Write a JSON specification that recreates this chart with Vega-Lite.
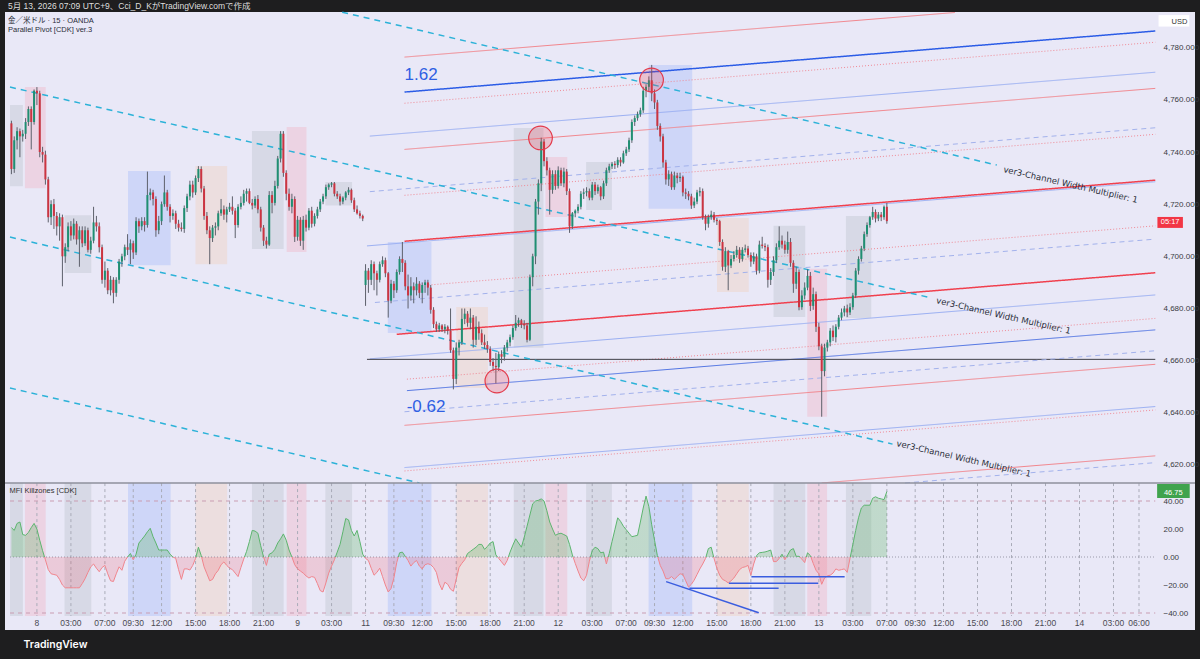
{
  "$schema": "https://vega.github.io/schema/vega-lite/v6.json",
  "width": 1190,
  "height": 618,
  "autosize": {"type": "none"},
  "padding": {"left": 5, "top": 12, "right": 5, "bottom": 29},
  "background": "#1e1e1f",
  "config": {
    "view": {"fill": "#e9e8f7", "stroke": null},
    "text": {"font": "Liberation Sans"}
  },
  "title": {
    "text": "5月 13, 2026 07:09 UTC+9、Cci_D_KがTradingView.comで作成",
    "subtitle": ["金／米ドル · 15 · OANDA", "Parallel Pivot [CDK] ver.3"],
    "anchor": "start",
    "frame": "group",
    "orient": "top",
    "offset": -22,
    "dx": 3,
    "font": "Liberation Sans, Noto Sans CJK JP",
    "fontSize": 8.5,
    "fontWeight": "normal",
    "color": "#dedede",
    "subtitleFont": "Liberation Sans, Noto Sans CJK JP",
    "subtitleFontSize": 7.5,
    "subtitleColor": "#2a2e39",
    "subtitlePadding": 7,
    "subtitleLineHeight": 8.5
  },
  "datasets": {
    "bars": [
      {"b":1,"o":4751,"h":4752,"l":4731.5,"c":4733.5,"m":21},
      {"b":2,"o":4733.5,"h":4746,"l":4732,"c":4744.5,"m":19},
      {"b":3,"o":4744.5,"h":4749.5,"l":4741,"c":4748,"m":24},
      {"b":4,"o":4748,"h":4749,"l":4738,"c":4746,"m":25},
      {"b":5,"o":4746,"h":4748.5,"l":4744,"c":4747,"m":16},
      {"b":6,"o":4747,"h":4753,"l":4745,"c":4751.5,"m":15.5},
      {"b":7,"o":4751.5,"h":4757.5,"l":4750,"c":4756.5,"m":17.5},
      {"b":8,"o":4756.5,"h":4757.5,"l":4741,"c":4751.5,"m":21},
      {"b":9,"o":4751.5,"h":4764,"l":4750.5,"c":4763.5,"m":24},
      {"b":10,"o":4763.5,"h":4764.9,"l":4758,"c":4762.5,"m":20},
      {"b":11,"o":4762.5,"h":4763.5,"l":4738,"c":4740,"m":12},
      {"b":12,"o":4740,"h":4742,"l":4736,"c":4739,"m":4.5},
      {"b":13,"o":4739,"h":4740.5,"l":4727.5,"c":4729.5,"m":-2},
      {"b":14,"o":4729.5,"h":4730.5,"l":4713,"c":4715,"m":-9},
      {"b":15,"o":4715,"h":4721.5,"l":4712,"c":4720,"m":-12},
      {"b":16,"o":4720,"h":4722,"l":4710.5,"c":4715.5,"m":-12.5},
      {"b":17,"o":4715.5,"h":4717,"l":4708,"c":4711.5,"m":-13},
      {"b":18,"o":4711.5,"h":4716.5,"l":4706,"c":4715,"m":-16},
      {"b":19,"o":4715,"h":4716,"l":4688.5,"c":4700,"m":-20},
      {"b":20,"o":4700,"h":4705,"l":4697.5,"c":4703.5,"m":-22},
      {"b":21,"o":4703.5,"h":4713,"l":4702,"c":4711.5,"m":-22},
      {"b":22,"o":4711.5,"h":4713.5,"l":4706,"c":4708,"m":-22},
      {"b":23,"o":4708,"h":4714.5,"l":4706.5,"c":4712.5,"m":-22},
      {"b":24,"o":4712.5,"h":4713.5,"l":4704.5,"c":4706.5,"m":-22},
      {"b":25,"o":4706.5,"h":4711.5,"l":4696,"c":4710,"m":-22},
      {"b":26,"o":4710,"h":4711.5,"l":4703.5,"c":4705,"m":-19},
      {"b":27,"o":4705,"h":4711.5,"l":4704,"c":4710,"m":-15.5},
      {"b":28,"o":4710,"h":4711,"l":4701.5,"c":4702.5,"m":-11},
      {"b":29,"o":4702.5,"h":4707.5,"l":4701,"c":4706,"m":-7},
      {"b":30,"o":4706,"h":4719,"l":4705,"c":4713,"m":-5},
      {"b":31,"o":4713,"h":4715.5,"l":4709.5,"c":4711.5,"m":-8},
      {"b":32,"o":4711.5,"h":4713,"l":4701.5,"c":4703.5,"m":-10.5},
      {"b":33,"o":4703.5,"h":4704.5,"l":4689.5,"c":4691,"m":-7.5},
      {"b":34,"o":4691,"h":4698,"l":4688,"c":4694.5,"m":-6},
      {"b":35,"o":4694.5,"h":4695.5,"l":4685.5,"c":4687,"m":-12},
      {"b":36,"o":4687,"h":4692.5,"l":4685,"c":4691,"m":-17},
      {"b":37,"o":4691,"h":4692,"l":4682,"c":4686,"m":-17.5},
      {"b":38,"o":4686,"h":4692,"l":4684.5,"c":4691,"m":-12},
      {"b":39,"o":4691,"h":4699,"l":4689.5,"c":4698,"m":-7},
      {"b":40,"o":4698,"h":4701,"l":4696,"c":4700,"m":-9.5},
      {"b":41,"o":4700,"h":4704.5,"l":4698.5,"c":4703.5,"m":-3},
      {"b":42,"o":4703.5,"h":4708.5,"l":4700.5,"c":4702.5,"m":0},
      {"b":43,"o":4702.5,"h":4706.5,"l":4697,"c":4705,"m":2.5},
      {"b":44,"o":4705,"h":4706,"l":4699,"c":4701.5,"m":-2},
      {"b":45,"o":4701.5,"h":4715,"l":4700.5,"c":4713.5,"m":2},
      {"b":46,"o":4713.5,"h":4714.5,"l":4709,"c":4711.5,"m":10},
      {"b":47,"o":4711.5,"h":4715,"l":4710,"c":4713.5,"m":12.5},
      {"b":48,"o":4713.5,"h":4715,"l":4709.5,"c":4712,"m":15},
      {"b":49,"o":4712,"h":4732.5,"l":4711,"c":4723.5,"m":18},
      {"b":50,"o":4723.5,"h":4726,"l":4721.5,"c":4724.5,"m":20.5},
      {"b":51,"o":4724.5,"h":4725.5,"l":4719.5,"c":4722,"m":14.5},
      {"b":52,"o":4722,"h":4723,"l":4707.5,"c":4710,"m":10},
      {"b":53,"o":4710,"h":4715.5,"l":4708.5,"c":4713.5,"m":5},
      {"b":54,"o":4713.5,"h":4721,"l":4712,"c":4720,"m":5},
      {"b":55,"o":4720,"h":4731,"l":4719,"c":4724.5,"m":5},
      {"b":56,"o":4724.5,"h":4725.5,"l":4717.5,"c":4719,"m":5},
      {"b":57,"o":4719,"h":4720,"l":4713,"c":4715.5,"m":2},
      {"b":58,"o":4715.5,"h":4718,"l":4714,"c":4716.5,"m":0},
      {"b":59,"o":4716.5,"h":4717.5,"l":4710.5,"c":4712.5,"m":-1},
      {"b":60,"o":4712.5,"h":4714,"l":4709.5,"c":4711,"m":-9},
      {"b":61,"o":4711,"h":4713,"l":4709.5,"c":4710.5,"m":-16},
      {"b":62,"o":4710.5,"h":4719.5,"l":4709,"c":4718.5,"m":-8.5},
      {"b":63,"o":4718.5,"h":4724,"l":4717,"c":4723,"m":-8.5},
      {"b":64,"o":4723,"h":4729,"l":4721.5,"c":4727.5,"m":-9.3},
      {"b":65,"o":4727.5,"h":4729,"l":4722.5,"c":4724.5,"m":-6},
      {"b":66,"o":4724.5,"h":4731,"l":4723.5,"c":4730,"m":-1},
      {"b":67,"o":4730,"h":4734.6,"l":4728.5,"c":4733.5,"m":7},
      {"b":68,"o":4733.5,"h":4734.5,"l":4724.5,"c":4726,"m":1},
      {"b":69,"o":4726,"h":4727,"l":4714,"c":4715.5,"m":-7},
      {"b":70,"o":4715.5,"h":4717,"l":4708.5,"c":4710,"m":-12},
      {"b":71,"o":4710,"h":4711.5,"l":4697,"c":4707,"m":-17},
      {"b":72,"o":4707,"h":4712,"l":4705.5,"c":4711,"m":-16},
      {"b":73,"o":4711,"h":4713,"l":4708,"c":4711.5,"m":-12},
      {"b":74,"o":4711.5,"h":4717.5,"l":4710,"c":4716.5,"m":-9.5},
      {"b":75,"o":4716.5,"h":4722,"l":4715.5,"c":4718,"m":-5.5},
      {"b":76,"o":4718,"h":4719.5,"l":4714,"c":4716,"m":-3.5},
      {"b":77,"o":4716,"h":4719,"l":4713,"c":4718,"m":-6},
      {"b":78,"o":4718,"h":4720.5,"l":4717,"c":4719,"m":-8},
      {"b":79,"o":4719,"h":4723,"l":4716,"c":4717.5,"m":-9},
      {"b":80,"o":4717.5,"h":4718.5,"l":4707,"c":4712,"m":-11.5},
      {"b":81,"o":4712,"h":4720,"l":4711,"c":4719,"m":-14},
      {"b":82,"o":4719,"h":4723,"l":4718,"c":4720.5,"m":-7.5},
      {"b":83,"o":4720.5,"h":4725.5,"l":4719.5,"c":4724,"m":-1.5},
      {"b":84,"o":4724,"h":4726,"l":4721,"c":4725,"m":4},
      {"b":85,"o":4725,"h":4726,"l":4720,"c":4720.5,"m":11},
      {"b":86,"o":4720.5,"h":4722,"l":4718,"c":4719.5,"m":19},
      {"b":87,"o":4719.5,"h":4723,"l":4718.5,"c":4722,"m":18.5},
      {"b":88,"o":4722,"h":4723.5,"l":4716.5,"c":4718,"m":17},
      {"b":89,"o":4718,"h":4719,"l":4709.5,"c":4711,"m":8},
      {"b":90,"o":4711,"h":4712,"l":4704,"c":4706,"m":0},
      {"b":91,"o":4706,"h":4707.5,"l":4703,"c":4704.5,"m":-6},
      {"b":92,"o":4704.5,"h":4725,"l":4704,"c":4723.5,"m":2},
      {"b":93,"o":4723.5,"h":4725,"l":4716.5,"c":4720.5,"m":3},
      {"b":94,"o":4720.5,"h":4729,"l":4719.5,"c":4727,"m":5.5},
      {"b":95,"o":4727,"h":4738.5,"l":4726,"c":4737.5,"m":10},
      {"b":96,"o":4737.5,"h":4748,"l":4736,"c":4747,"m":13},
      {"b":97,"o":4747,"h":4748,"l":4730.5,"c":4732,"m":16.5},
      {"b":98,"o":4732,"h":4733,"l":4721.5,"c":4724,"m":12},
      {"b":99,"o":4724,"h":4726,"l":4717.5,"c":4719,"m":5},
      {"b":100,"o":4719,"h":4724,"l":4716.5,"c":4722,"m":0},
      {"b":101,"o":4722,"h":4723,"l":4705.5,"c":4707.5,"m":-5.5},
      {"b":102,"o":4707.5,"h":4715.5,"l":4706,"c":4714,"m":-8.5},
      {"b":103,"o":4714,"h":4715,"l":4704,"c":4706,"m":-10},
      {"b":104,"o":4706,"h":4715.5,"l":4702.5,"c":4714,"m":-11.5},
      {"b":105,"o":4714,"h":4716,"l":4709.5,"c":4711,"m":-13.5},
      {"b":106,"o":4711,"h":4718.5,"l":4710,"c":4717.5,"m":-15},
      {"b":107,"o":4717.5,"h":4719,"l":4711,"c":4712.5,"m":-14},
      {"b":108,"o":4712.5,"h":4716.5,"l":4711.5,"c":4715.5,"m":-14.5},
      {"b":109,"o":4715.5,"h":4719,"l":4714.5,"c":4718,"m":-19},
      {"b":110,"o":4718,"h":4722,"l":4717,"c":4721,"m":-24},
      {"b":111,"o":4721,"h":4724,"l":4720,"c":4723,"m":-25},
      {"b":112,"o":4723,"h":4727.5,"l":4722,"c":4726.5,"m":-18.5},
      {"b":113,"o":4726.5,"h":4728,"l":4725.5,"c":4727.5,"m":-11.5},
      {"b":114,"o":4727.5,"h":4728.5,"l":4726.5,"c":4728,"m":-6.5},
      {"b":115,"o":4728,"h":4728.5,"l":4723,"c":4724,"m":-2},
      {"b":116,"o":4724,"h":4725,"l":4722,"c":4723,"m":3.5},
      {"b":117,"o":4723,"h":4724,"l":4719.5,"c":4721,"m":9},
      {"b":118,"o":4721,"h":4723,"l":4720,"c":4722.5,"m":18},
      {"b":119,"o":4722.5,"h":4725,"l":4721.5,"c":4724.5,"m":27.5},
      {"b":120,"o":4724.5,"h":4726.5,"l":4723.5,"c":4725.5,"m":26.5},
      {"b":121,"o":4725.5,"h":4726,"l":4720.5,"c":4721.5,"m":19},
      {"b":122,"o":4721.5,"h":4722.5,"l":4717,"c":4718,"m":15},
      {"b":123,"o":4718,"h":4719.5,"l":4716,"c":4716.5,"m":19},
      {"b":124,"o":4716.5,"h":4717.5,"l":4714.5,"c":4715.5,"m":11},
      {"b":125,"o":4715.5,"h":4716,"l":4713.5,"c":4714.5,"m":2},
      {"b":126,"o":4689,"h":4697,"l":4681,"c":4694.5,"m":-1},
      {"b":127,"o":4694.5,"h":4695.5,"l":4686,"c":4691,"m":-2.5},
      {"b":128,"o":4691,"h":4698.5,"l":4689,"c":4697,"m":-8},
      {"b":129,"o":4697,"h":4698,"l":4687,"c":4693.5,"m":-13},
      {"b":130,"o":4693.5,"h":4694.5,"l":4685,"c":4691,"m":-11},
      {"b":131,"o":4691,"h":4698,"l":4690,"c":4697,"m":-8},
      {"b":132,"o":4697,"h":4700,"l":4696,"c":4698.5,"m":-14},
      {"b":133,"o":4698.5,"h":4699.5,"l":4692,"c":4693.5,"m":-20},
      {"b":134,"o":4693.5,"h":4694,"l":4676.5,"c":4683,"m":-25},
      {"b":135,"o":4683,"h":4691,"l":4682,"c":4689.5,"m":-22.5},
      {"b":136,"o":4689.5,"h":4690.5,"l":4684,"c":4687,"m":-15},
      {"b":137,"o":4687,"h":4695,"l":4686,"c":4694,"m":-4},
      {"b":138,"o":4694,"h":4700,"l":4693,"c":4699,"m":3},
      {"b":139,"o":4699,"h":4705.5,"l":4694,"c":4697.5,"m":3.5},
      {"b":140,"o":4697.5,"h":4698.5,"l":4687,"c":4688.5,"m":0.5},
      {"b":141,"o":4688.5,"h":4693,"l":4680,"c":4685,"m":-2.5},
      {"b":142,"o":4685,"h":4692,"l":4683,"c":4688.5,"m":-6.5},
      {"b":143,"o":4688.5,"h":4690,"l":4682,"c":4687,"m":-4},
      {"b":144,"o":4687,"h":4692,"l":4685,"c":4689.5,"m":-2.5},
      {"b":145,"o":4689.5,"h":4690.5,"l":4684,"c":4686,"m":-6.5},
      {"b":146,"o":4686,"h":4690,"l":4682,"c":4689,"m":-8.5},
      {"b":147,"o":4689,"h":4691,"l":4686,"c":4690,"m":-5.5},
      {"b":148,"o":4690,"h":4691,"l":4685,"c":4688,"m":-4.8},
      {"b":149,"o":4688,"h":4689,"l":4678,"c":4679.5,"m":-5.5},
      {"b":150,"o":4679.5,"h":4680.5,"l":4672.5,"c":4674,"m":-7.5},
      {"b":151,"o":4674,"h":4675,"l":4671,"c":4672,"m":-11},
      {"b":152,"o":4672,"h":4674.5,"l":4671,"c":4673.5,"m":-19},
      {"b":153,"o":4673.5,"h":4674,"l":4671,"c":4672,"m":-23.5},
      {"b":154,"o":4672,"h":4674,"l":4670.5,"c":4673,"m":-18},
      {"b":155,"o":4673,"h":4673.5,"l":4670,"c":4671.5,"m":-19.5},
      {"b":156,"o":4671.5,"h":4680,"l":4663,"c":4664,"m":-23},
      {"b":157,"o":4664,"h":4665,"l":4649,"c":4653,"m":-24.5},
      {"b":158,"o":4653,"h":4667,"l":4651,"c":4665,"m":-16},
      {"b":159,"o":4665,"h":4668,"l":4662,"c":4667,"m":-7.5},
      {"b":160,"o":4667,"h":4680,"l":4666,"c":4676,"m":-4.5},
      {"b":161,"o":4676,"h":4680,"l":4674,"c":4678,"m":-2},
      {"b":162,"o":4678,"h":4679,"l":4673,"c":4674.5,"m":2.5},
      {"b":163,"o":4674.5,"h":4680,"l":4672,"c":4676.5,"m":4},
      {"b":164,"o":4676.5,"h":4677.5,"l":4665,"c":4668,"m":5.5},
      {"b":165,"o":4668,"h":4677,"l":4666,"c":4673,"m":7},
      {"b":166,"o":4673,"h":4675,"l":4668,"c":4670.5,"m":9},
      {"b":167,"o":4670.5,"h":4672,"l":4666,"c":4667,"m":9},
      {"b":168,"o":4667,"h":4670,"l":4664.5,"c":4666,"m":5.5},
      {"b":169,"o":4666,"h":4667.5,"l":4663,"c":4664.5,"m":7.5},
      {"b":170,"o":4664.5,"h":4665.5,"l":4658,"c":4659.5,"m":10},
      {"b":171,"o":4659.5,"h":4661,"l":4656,"c":4658,"m":11},
      {"b":172,"o":4658,"h":4663,"l":4651.3,"c":4657.5,"m":1.5},
      {"b":173,"o":4657.5,"h":4663.5,"l":4656,"c":4662.5,"m":-1},
      {"b":174,"o":4662.5,"h":4664,"l":4659,"c":4661.5,"m":-3.5},
      {"b":175,"o":4661.5,"h":4666,"l":4660,"c":4665,"m":-6},
      {"b":176,"o":4665,"h":4668,"l":4663.5,"c":4667,"m":-2.5},
      {"b":177,"o":4667,"h":4670,"l":4665.5,"c":4669,"m":3.5},
      {"b":178,"o":4669,"h":4673.5,"l":4668,"c":4672.5,"m":8.5},
      {"b":179,"o":4672.5,"h":4677.5,"l":4671.5,"c":4674.5,"m":13},
      {"b":180,"o":4674.5,"h":4676.5,"l":4673,"c":4675.5,"m":10},
      {"b":181,"o":4675.5,"h":4676,"l":4672.5,"c":4674,"m":7},
      {"b":182,"o":4674,"h":4675.5,"l":4672,"c":4673.5,"m":14},
      {"b":183,"o":4673.5,"h":4674.5,"l":4667,"c":4668,"m":22},
      {"b":184,"o":4668,"h":4693,"l":4667.5,"c":4692,"m":30},
      {"b":185,"o":4692,"h":4701,"l":4688.5,"c":4700,"m":38},
      {"b":186,"o":4700,"h":4722,"l":4697,"c":4721,"m":40},
      {"b":187,"o":4721,"h":4729.5,"l":4716,"c":4728,"m":40.5},
      {"b":188,"o":4728,"h":4745.5,"l":4725,"c":4744,"m":41.5},
      {"b":189,"o":4744,"h":4745,"l":4734.5,"c":4736.5,"m":40},
      {"b":190,"o":4736.5,"h":4738,"l":4731,"c":4733,"m":33},
      {"b":191,"o":4733,"h":4734,"l":4716,"c":4725.5,"m":25},
      {"b":192,"o":4725.5,"h":4733,"l":4724,"c":4731.5,"m":20},
      {"b":193,"o":4731.5,"h":4733,"l":4725.5,"c":4727,"m":15.5},
      {"b":194,"o":4727,"h":4734.5,"l":4726,"c":4733,"m":16.5},
      {"b":195,"o":4733,"h":4734,"l":4727,"c":4728,"m":17},
      {"b":196,"o":4728,"h":4734,"l":4726.5,"c":4732.5,"m":16},
      {"b":197,"o":4732.5,"h":4733.5,"l":4723.5,"c":4725,"m":15},
      {"b":198,"o":4725,"h":4726,"l":4709,"c":4711.5,"m":9},
      {"b":199,"o":4711.5,"h":4717,"l":4710.5,"c":4716.5,"m":1.5},
      {"b":200,"o":4716.5,"h":4718,"l":4715,"c":4717.5,"m":-4.5},
      {"b":201,"o":4717.5,"h":4720,"l":4716.5,"c":4719,"m":-10},
      {"b":202,"o":4719,"h":4725,"l":4718,"c":4724,"m":-15},
      {"b":203,"o":4724,"h":4726,"l":4722,"c":4724.5,"m":-17},
      {"b":204,"o":4724.5,"h":4726.5,"l":4723,"c":4725,"m":-13},
      {"b":205,"o":4725,"h":4726,"l":4721.5,"c":4722.5,"m":-3},
      {"b":206,"o":4722.5,"h":4728.5,"l":4721.5,"c":4727.5,"m":4.5},
      {"b":207,"o":4727.5,"h":4728.5,"l":4723.5,"c":4725,"m":7},
      {"b":208,"o":4725,"h":4727.5,"l":4724,"c":4726.5,"m":6},
      {"b":209,"o":4726.5,"h":4727,"l":4721.5,"c":4723,"m":3},
      {"b":210,"o":4723,"h":4729,"l":4722,"c":4728,"m":3.5},
      {"b":211,"o":4728,"h":4734,"l":4727,"c":4733,"m":-5},
      {"b":212,"o":4733,"h":4735.5,"l":4732,"c":4734.5,"m":2.5},
      {"b":213,"o":4734.5,"h":4736.2,"l":4733.5,"c":4735.5,"m":11},
      {"b":214,"o":4735.5,"h":4736.5,"l":4733.5,"c":4735,"m":19.5},
      {"b":215,"o":4735,"h":4738,"l":4734,"c":4737,"m":28},
      {"b":216,"o":4737,"h":4738,"l":4734.5,"c":4736,"m":25.5},
      {"b":217,"o":4736,"h":4740.5,"l":4735.5,"c":4739.5,"m":22},
      {"b":218,"o":4739.5,"h":4742,"l":4738.5,"c":4741,"m":19.5},
      {"b":219,"o":4741,"h":4745.5,"l":4740,"c":4744.5,"m":17},
      {"b":220,"o":4744.5,"h":4752.5,"l":4743.5,"c":4751.5,"m":14.5},
      {"b":221,"o":4751.5,"h":4754,"l":4750,"c":4753,"m":15},
      {"b":222,"o":4753,"h":4755.5,"l":4752,"c":4754.5,"m":15.5},
      {"b":223,"o":4754.5,"h":4757,"l":4753.5,"c":4756,"m":25},
      {"b":224,"o":4756,"h":4765,"l":4755,"c":4763.5,"m":35},
      {"b":225,"o":4763.5,"h":4766,"l":4761,"c":4765,"m":43.5},
      {"b":226,"o":4765,"h":4769,"l":4763,"c":4767.5,"m":36},
      {"b":227,"o":4767.5,"h":4773.4,"l":4759.5,"c":4762.5,"m":23},
      {"b":228,"o":4762.5,"h":4764,"l":4756.5,"c":4759,"m":12},
      {"b":229,"o":4759,"h":4760,"l":4748.5,"c":4750,"m":1},
      {"b":230,"o":4750,"h":4751,"l":4744,"c":4746,"m":-6},
      {"b":231,"o":4746,"h":4747,"l":4734,"c":4736,"m":-10},
      {"b":232,"o":4736,"h":4737,"l":4727.5,"c":4729.5,"m":-15.5},
      {"b":233,"o":4729.5,"h":4733,"l":4727,"c":4731.5,"m":-15.5},
      {"b":234,"o":4731.5,"h":4732.5,"l":4725.5,"c":4726.5,"m":-14},
      {"b":235,"o":4726.5,"h":4732.5,"l":4725.5,"c":4731,"m":-16},
      {"b":236,"o":4731,"h":4732,"l":4728,"c":4730,"m":-14},
      {"b":237,"o":4730,"h":4732,"l":4728.5,"c":4730.5,"m":-12},
      {"b":238,"o":4730.5,"h":4731,"l":4723,"c":4724.5,"m":-12.5},
      {"b":239,"o":4724.5,"h":4726,"l":4722,"c":4724,"m":-17},
      {"b":240,"o":4724,"h":4725,"l":4721.5,"c":4723,"m":-21.5},
      {"b":241,"o":4723,"h":4724,"l":4718.2,"c":4719.5,"m":-19.5},
      {"b":242,"o":4719.5,"h":4722.5,"l":4718.5,"c":4721,"m":-16.5},
      {"b":243,"o":4721,"h":4725.5,"l":4720,"c":4724.5,"m":-12.5},
      {"b":244,"o":4724.5,"h":4726.5,"l":4723,"c":4725,"m":-8.5},
      {"b":245,"o":4725,"h":4726,"l":4714,"c":4715,"m":-5},
      {"b":246,"o":4715,"h":4716,"l":4710,"c":4712.5,"m":-1},
      {"b":247,"o":4712.5,"h":4716,"l":4711,"c":4715,"m":6},
      {"b":248,"o":4715,"h":4717.5,"l":4714,"c":4716,"m":7},
      {"b":249,"o":4716,"h":4717,"l":4713,"c":4714,"m":-1},
      {"b":250,"o":4714,"h":4714.7,"l":4712,"c":4713.5,"m":-8},
      {"b":251,"o":4713.5,"h":4714,"l":4704,"c":4705.5,"m":-13},
      {"b":252,"o":4705.5,"h":4706.5,"l":4694.5,"c":4696,"m":-16},
      {"b":253,"o":4696,"h":4703.5,"l":4694,"c":4702,"m":-17},
      {"b":254,"o":4702,"h":4702.5,"l":4687,"c":4696.5,"m":-18.5},
      {"b":255,"o":4696.5,"h":4700.5,"l":4695.5,"c":4699,"m":-17},
      {"b":256,"o":4699,"h":4702,"l":4698,"c":4700.5,"m":-15},
      {"b":257,"o":4700.5,"h":4704,"l":4699.5,"c":4702.5,"m":-12},
      {"b":258,"o":4702.5,"h":4703.5,"l":4697.5,"c":4699,"m":-9},
      {"b":259,"o":4699,"h":4703.5,"l":4698,"c":4702.5,"m":-7.5},
      {"b":260,"o":4702.5,"h":4704.5,"l":4701.5,"c":4703,"m":-7},
      {"b":261,"o":4703,"h":4704,"l":4699.5,"c":4700.5,"m":-6},
      {"b":262,"o":4700.5,"h":4701.5,"l":4696,"c":4698,"m":-13},
      {"b":263,"o":4698,"h":4701.5,"l":4697,"c":4700,"m":-5},
      {"b":264,"o":4700,"h":4701,"l":4693,"c":4694.5,"m":1},
      {"b":265,"o":4694.5,"h":4706,"l":4693.5,"c":4704.5,"m":3},
      {"b":266,"o":4704.5,"h":4707.5,"l":4703,"c":4704,"m":3.3},
      {"b":267,"o":4704,"h":4705,"l":4702,"c":4703.5,"m":3.6},
      {"b":268,"o":4703.5,"h":4704.5,"l":4688,"c":4691,"m":4.2},
      {"b":269,"o":4691,"h":4695.5,"l":4689,"c":4694,"m":5},
      {"b":270,"o":4694,"h":4700,"l":4692.5,"c":4698.5,"m":-3.3},
      {"b":271,"o":4698.5,"h":4705,"l":4697.5,"c":4703.5,"m":-3.3},
      {"b":272,"o":4703.5,"h":4711.5,"l":4702.5,"c":4706,"m":-1},
      {"b":273,"o":4706,"h":4708,"l":4703,"c":4704.5,"m":2},
      {"b":274,"o":4704.5,"h":4706,"l":4701,"c":4702.5,"m":-2},
      {"b":275,"o":4702.5,"h":4709.5,"l":4701,"c":4705.5,"m":1.5},
      {"b":276,"o":4705.5,"h":4707,"l":4696,"c":4697.5,"m":5},
      {"b":277,"o":4697.5,"h":4698.5,"l":4686,"c":4689.5,"m":6},
      {"b":278,"o":4689.5,"h":4696,"l":4687.5,"c":4694,"m":0.5},
      {"b":279,"o":4694,"h":4695,"l":4679.3,"c":4680.5,"m":0.5},
      {"b":280,"o":4680.5,"h":4687,"l":4679.5,"c":4685,"m":-1.5},
      {"b":281,"o":4685,"h":4690,"l":4683.5,"c":4688,"m":-4},
      {"b":282,"o":4688,"h":4695,"l":4687,"c":4692.5,"m":3},
      {"b":283,"o":4692.5,"h":4694,"l":4679,"c":4681,"m":1},
      {"b":284,"o":4681,"h":4688,"l":4679.5,"c":4685.5,"m":-4.5},
      {"b":285,"o":4685.5,"h":4686.5,"l":4671,"c":4673,"m":-9.5},
      {"b":286,"o":4673,"h":4674.5,"l":4664,"c":4665.5,"m":-12},
      {"b":287,"o":4665.5,"h":4666.5,"l":4638.5,"c":4656,"m":-19.5},
      {"b":288,"o":4656,"h":4666.5,"l":4654,"c":4665,"m":-15},
      {"b":289,"o":4665,"h":4668,"l":4663.5,"c":4667,"m":-13.5},
      {"b":290,"o":4667,"h":4672.5,"l":4665.5,"c":4671.5,"m":-13},
      {"b":291,"o":4671.5,"h":4673.5,"l":4667.5,"c":4669,"m":-11.5},
      {"b":292,"o":4669,"h":4674,"l":4667,"c":4673,"m":-8.5},
      {"b":293,"o":4673,"h":4677.5,"l":4672,"c":4676.5,"m":-9.5},
      {"b":294,"o":4676.5,"h":4680,"l":4675.5,"c":4678.5,"m":-9},
      {"b":295,"o":4678.5,"h":4681,"l":4677,"c":4680,"m":-8.5},
      {"b":296,"o":4680,"h":4681.5,"l":4676.7,"c":4678.5,"m":-11},
      {"b":297,"o":4678.5,"h":4682,"l":4677.5,"c":4680.5,"m":-1},
      {"b":298,"o":4680.5,"h":4686,"l":4679.5,"c":4685,"m":9},
      {"b":299,"o":4685,"h":4695.5,"l":4684,"c":4694.5,"m":19},
      {"b":300,"o":4694.5,"h":4700,"l":4693,"c":4699,"m":28},
      {"b":301,"o":4699,"h":4704,"l":4698,"c":4703,"m":35},
      {"b":302,"o":4703,"h":4709.5,"l":4702,"c":4708.5,"m":37},
      {"b":303,"o":4708.5,"h":4713,"l":4707.5,"c":4712,"m":37},
      {"b":304,"o":4712,"h":4715.5,"l":4711,"c":4715,"m":37},
      {"b":305,"o":4715,"h":4719,"l":4714,"c":4717,"m":42},
      {"b":306,"o":4717,"h":4718,"l":4713,"c":4714.5,"m":43},
      {"b":307,"o":4714.5,"h":4717,"l":4713.5,"c":4716,"m":42},
      {"b":308,"o":4716,"h":4717,"l":4713.5,"c":4715,"m":41.5},
      {"b":309,"o":4715,"h":4719.5,"l":4714,"c":4719,"m":41},
      {"b":310,"o":4719,"h":4720.5,"l":4712.5,"c":4713.5,"m":46.75}
    ],
    "zones": [
      {"b":0.5,"b2":5.05,"p":4758.0,"p2":4726.9,"z":"gray"},
      {"b":5.75,"b2":13.1,"p":4764.9,"p2":4726.1,"z":"pink"},
      {"b":19.75,"b2":29.2,"p":4715.8,"p2":4693.6,"z":"gray"},
      {"b":42.15,"b2":57.2,"p":4732.7,"p2":4696.6,"z":"blue"},
      {"b":65.95,"b2":77.15,"p":4734.6,"p2":4697.0,"z":"peach"},
      {"b":85.9,"b2":97.1,"p":4748.1,"p2":4702.8,"z":"gray"},
      {"b":98.15,"b2":105.15,"p":4749.6,"p2":4701.7,"z":"pink"},
      {"b":111.8,"b2":121.25,"p":4728.5,"p2":4719.5,"z":"gray"},
      {"b":133.85,"b2":149.25,"p":4705.5,"p2":4670.6,"z":"blue"},
      {"b":158.0,"b2":169.2,"p":4680.6,"p2":4649.5,"z":"peach"},
      {"b":178.3,"b2":188.8,"p":4749.2,"p2":4664.9,"z":"gray"},
      {"b":189.5,"b2":197.2,"p":4738.1,"p2":4715.1,"z":"pink"},
      {"b":203.85,"b2":212.95,"p":4736.2,"p2":4717.8,"z":"gray"},
      {"b":225.9,"b2":241.3,"p":4773.4,"p2":4718.2,"z":"blue"},
      {"b":250.05,"b2":261.25,"p":4714.7,"p2":4686.3,"z":"peach"},
      {"b":270.0,"b2":281.2,"p":4711.7,"p2":4676.7,"z":"gray"},
      {"b":281.9,"b2":288.9,"p":4695.2,"p2":4638.5,"z":"pink"},
      {"b":295.55,"b2":304.5,"p":4715.5,"p2":4676.4,"z":"gray"}
    ],
    "lines": [
      {"b":139.75,"p":4776.4,"b2":334,"p2":4793.5,"k":"redThin"},
      {"b":139.75,"p":4763.0,"b2":404.75,"p2":4786.4,"k":"blueThick"},
      {"b":139.75,"p":4758.7,"b2":404.75,"p2":4782.1,"k":"redDot"},
      {"b":127.5,"p":4746.1,"b2":404.75,"p2":4770.6,"k":"blueLight"},
      {"b":139.75,"p":4741.0,"b2":404.75,"p2":4764.4,"k":"redThin"},
      {"b":127.5,"p":4724.8,"b2":404.75,"p2":4749.3,"k":"blueDash"},
      {"b":139.75,"p":4723.4,"b2":404.75,"p2":4746.8,"k":"redDot"},
      {"b":139.75,"p":4705.8,"b2":404.75,"p2":4729.2,"k":"redSolid"},
      {"b":126.5,"p":4704.0,"b2":404.75,"p2":4728.6,"k":"blueLight"},
      {"b":148.2,"p":4689.0,"b2":404.75,"p2":4711.7,"k":"redDot"},
      {"b":129.3,"p":4682.3,"b2":404.75,"p2":4706.6,"k":"blueDash"},
      {"b":137,"p":4670.1,"b2":404.75,"p2":4693.7,"k":"redSolid"},
      {"b":127.5,"p":4660.7,"b2":404.75,"p2":4685.2,"k":"blueLight"},
      {"b":140.6,"p":4652.9,"b2":404.75,"p2":4676.2,"k":"redDot"},
      {"b":140.6,"p":4648.5,"b2":404.75,"p2":4671.8,"k":"blueMed"},
      {"b":126.5,"p":4660.5,"b2":404.75,"p2":4660.5,"k":"black"},
      {"b":139.75,"p":4640.4,"b2":404.75,"p2":4663.8,"k":"blueDash"},
      {"b":139.75,"p":4635.2,"b2":404.75,"p2":4658.6,"k":"redThin"},
      {"b":139.75,"p":4619.0,"b2":404.75,"p2":4642.4,"k":"blueLight"},
      {"b":139.75,"p":4617.7,"b2":404.75,"p2":4641.1,"k":"redDot"},
      {"b":287,"p":4613.1,"b2":404.75,"p2":4623.5,"k":"redThin"},
      {"b":316.4,"p":4613.1,"b2":404.75,"p2":4620.9,"k":"blueDash"},
      {"b":117.75,"p":4793.6,"b2":348.8,"p2":4735.0,"k":"cyan"},
      {"b":0.5,"p":4764.9,"b2":326,"p2":4684.0,"k":"cyan"},
      {"b":0.5,"p":4707.4,"b2":312,"p2":4628.0,"k":"cyan"},
      {"b":0.5,"p":4649.5,"b2":145,"p2":4613.1,"k":"cyan"}
    ],
    "pivots": [
      {"b":172.35,"p":4652.2},
      {"b":187.75,"p":4745.4},
      {"b":226.95,"p":4767.6}
    ],
    "notes": [
      {"b":351.2,"p":4733.5,"t":"ver3-Channel Width Multiplier: 1"},
      {"b":327.5,"p":4683.2,"t":"ver3-Channel Width Multiplier: 1"},
      {"b":313.5,"p":4628.4,"t":"ver3-Channel Width Multiplier: 1"}
    ],
    "fib": [
      {"b":139.75,"p":4769.5,"t":"1.62"},
      {"b":140.5,"p":4642.1,"t":"-0.62"}
    ],
    "divs": [
      {"b":232.1,"m":-17.6,"b2":264.8,"m2":-39.8},
      {"b":240.3,"m":-22.4,"b2":271.8,"m2":-22.4},
      {"b":254.25,"m":-18.8,"b2":285.8,"m2":-18.8},
      {"b":262.2,"m":-14.1,"b2":295.1,"m2":-14.1}
    ],
    "ticks": [
      {"b":10,"t":"8"},{"b":22,"t":"03:00"},{"b":34,"t":"07:00"},{"b":44,"t":"09:30"},{"b":54,"t":"12:00"},
      {"b":66,"t":"15:00"},{"b":78,"t":"18:00"},{"b":90,"t":"21:00"},{"b":102,"t":"9"},{"b":114,"t":"03:00"},
      {"b":126,"t":"11"},{"b":136,"t":"09:30"},{"b":146,"t":"12:00"},{"b":158,"t":"15:00"},{"b":170,"t":"18:00"},
      {"b":182,"t":"21:00"},{"b":194,"t":"12"},{"b":206,"t":"03:00"},{"b":218,"t":"07:00"},{"b":228,"t":"09:30"},
      {"b":238,"t":"12:00"},{"b":250,"t":"15:00"},{"b":262,"t":"18:00"},{"b":274,"t":"21:00"},{"b":286,"t":"13"},
      {"b":298,"t":"03:00"},{"b":310,"t":"07:00"},{"b":320,"t":"09:30"},{"b":330,"t":"12:00"},{"b":342,"t":"15:00"},
      {"b":354,"t":"18:00"},{"b":366,"t":"21:00"},{"b":378,"t":"14"},{"b":390,"t":"03:00"},{"b":399,"t":"06:00"}
    ]
  },
  "layer": [
    {
      "layer": [
        {
          "data": {"name": "zones"},
          "mark": {"type": "rect"},
          "encoding": {
            "x": {"field": "b", "type": "quantitative", "scale": {"domain": [0.5, 417]},
              "axis": {
                "orient": "bottom", "offset": -7, "labels": false,
                "ticks": false, "tickSize": 0, "domain": false, "grid": false,
                "title": "TradingView", "titleX": 18, "titleY": 21, "titleAlign": "left", "titleBaseline": "middle",
                "titleFontSize": 10.5, "titleFontWeight": 600, "titleFont": "Inter", "titleColor": "#ffffff", "zindex": 1
              }
            },
            "x2": {"field": "b2"},
            "y": {"field": "p", "type": "quantitative", "scale": {"domain": [4556.72, 4793.69]},
              "axis": {
                "orient": "right", "offset": -32,
                "values": [4620,4630,4640,4650,4660,4670,4680,4690,4700,4710,4720,4730,4740,4750,4760,4770,4780],
                "format": ",.3f", "labelFontSize": 8, "labelColor": "#3a3a42", "labelFont": "Liberation Sans",
                "labelPadding": 0, "labelAlign": "left", "labelBaseline": "middle",
                "ticks": false, "tickSize": 0, "domain": false, "grid": false,
                "title": "USD", "titleX": 16, "titleY": 9, "titleAngle": 0, "titleAlign": "center", "titleBaseline": "middle",
                "titleFontSize": 7.5, "titleFontWeight": "normal", "titleFont": "Liberation Sans", "titleColor": "#333333", "zindex": 2
              }
            },
            "y2": {"field": "p2"},
            "fill": {"field": "z", "type": "nominal", "legend": null,
              "scale": {"domain": ["gray", "pink", "blue", "peach"], "range": ["#d7d9e6", "#ecd3e3", "#ced6f8", "#ecdedf"]}}
          }
        },
        {
          "data": {"name": "lines"},
          "transform": [{"filter": {"field": "k", "oneOf": ["redThin", "redDot", "blueLight", "blueDash", "black", "blueMed"]}}],
          "mark": {"type": "rule", "strokeWidth": 1},
          "encoding": {
            "x": {"field": "b", "type": "quantitative", "scale": {"domain": [0.5, 417]}},
            "x2": {"field": "b2"},
            "y": {"field": "p", "type": "quantitative", "scale": {"domain": [4556.72, 4793.69]}},
            "y2": {"field": "p2"},
            "stroke": {"field": "k", "type": "nominal", "legend": null,
              "scale": {"domain": ["redSolid", "redThin", "redDot", "blueThick", "blueLight", "blueMed", "blueDash", "black", "cyan"],
                "range": ["#f0404e", "#f2858c", "#f08a96", "#2b5ce6", "#9aaff3", "#4f73e3", "#a3b2ec", "#3c3c44", "#2cb2d8"]}},
            "strokeDash": {"field": "k", "type": "nominal", "legend": null,
              "scale": {"domain": ["redSolid", "redThin", "redDot", "blueThick", "blueLight", "blueMed", "blueDash", "black", "cyan"],
                "range": [[1, 0], [1, 0], [1, 2], [1, 0], [1, 0], [1, 0], [5, 4], [1, 0], [6, 5]]}}
          }
        },
        {
          "data": {"name": "lines"},
          "transform": [{"filter": {"field": "k", "oneOf": ["redSolid", "blueThick", "cyan"]}}],
          "mark": {"type": "rule", "strokeWidth": 1.5},
          "encoding": {
            "x": {"field": "b", "type": "quantitative", "scale": {"domain": [0.5, 417]}},
            "x2": {"field": "b2"},
            "y": {"field": "p", "type": "quantitative", "scale": {"domain": [4556.72, 4793.69]}},
            "y2": {"field": "p2"},
            "stroke": {"field": "k", "type": "nominal", "legend": null,
              "scale": {"domain": ["redSolid", "redThin", "redDot", "blueThick", "blueLight", "blueMed", "blueDash", "black", "cyan"],
                "range": ["#f0404e", "#f2858c", "#f08a96", "#2b5ce6", "#9aaff3", "#4f73e3", "#a3b2ec", "#3c3c44", "#2cb2d8"]}},
            "strokeDash": {"field": "k", "type": "nominal", "legend": null,
              "scale": {"domain": ["redSolid", "redThin", "redDot", "blueThick", "blueLight", "blueMed", "blueDash", "black", "cyan"],
                "range": [[1, 0], [1, 0], [1, 2], [1, 0], [1, 0], [1, 0], [5, 4], [1, 0], [6, 5]]}}
          }
        },
        {
          "data": {"name": "bars"},
          "mark": {"type": "rule", "color": "#5d606b", "strokeWidth": 1},
          "encoding": {
            "x": {"field": "b", "type": "quantitative", "scale": {"domain": [0.5, 417]}},
            "y": {"field": "l", "type": "quantitative", "scale": {"domain": [4556.72, 4793.69]}},
            "y2": {"field": "h"}
          }
        },
        {
          "data": {"name": "bars"},
          "mark": {"type": "bar", "width": 2},
          "encoding": {
            "x": {"field": "b", "type": "quantitative", "scale": {"domain": [0.5, 417]}},
            "y": {"field": "o", "type": "quantitative", "scale": {"domain": [4556.72, 4793.69]}},
            "y2": {"field": "c"},
            "color": {"condition": {"test": "datum.c >= datum.o", "value": "#1f8f72"}, "value": "#cc3441"}
          }
        },
        {
          "data": {"name": "pivots"},
          "mark": {"type": "circle", "size": 560, "fill": "#f23645", "fillOpacity": 0.22, "stroke": "#e33a4b", "strokeWidth": 1.2, "opacity": 1},
          "encoding": {
            "x": {"field": "b", "type": "quantitative", "scale": {"domain": [0.5, 417]}},
            "y": {"field": "p", "type": "quantitative", "scale": {"domain": [4556.72, 4793.69]}}
          }
        },
        {
          "data": {"name": "notes"},
          "mark": {"type": "text", "angle": 13, "align": "left", "baseline": "middle", "fontSize": 8.5, "color": "#2a2e39", "font": "DejaVu Sans"},
          "encoding": {
            "x": {"field": "b", "type": "quantitative", "scale": {"domain": [0.5, 417]}},
            "y": {"field": "p", "type": "quantitative", "scale": {"domain": [4556.72, 4793.69]}},
            "text": {"field": "t"}
          }
        },
        {
          "data": {"name": "fib"},
          "mark": {"type": "text", "align": "left", "baseline": "middle", "fontSize": 17, "color": "#2f5fe3", "font": "Liberation Sans"},
          "encoding": {
            "x": {"field": "b", "type": "quantitative", "scale": {"domain": [0.5, 417]}},
            "y": {"field": "p", "type": "quantitative", "scale": {"domain": [4556.72, 4793.69]}},
            "text": {"field": "t"}
          }
        },
        {
          "data": {"values": [{"b": 405.9, "b2": 416.75, "p": 4792.5, "p2": 4788.1}]},
          "mark": {"type": "rect", "fill": "#ffffff"},
          "encoding": {
            "x": {"field": "b", "type": "quantitative", "scale": {"domain": [0.5, 417]}},
            "x2": {"field": "b2"},
            "y": {"field": "p", "type": "quantitative", "scale": {"domain": [4556.72, 4793.69]}},
            "y2": {"field": "p2"}
          }
        },
        {
          "data": {"values": [{"b": 405.5, "b2": 414.5, "p": 4715.1, "p2": 4710.9, "bt": 410, "pt": 4713, "t": "05:17"}]},
          "layer": [
            {
              "mark": {"type": "rect", "fill": "#f23645"},
              "encoding": {
                "x": {"field": "b", "type": "quantitative", "scale": {"domain": [0.5, 417]}},
                "x2": {"field": "b2"},
                "y": {"field": "p", "type": "quantitative", "scale": {"domain": [4556.72, 4793.69]}},
                "y2": {"field": "p2"}
              }
            },
            {
              "mark": {"type": "text", "color": "#ffffff", "fontSize": 7.5, "align": "center", "baseline": "middle"},
              "encoding": {
                "x": {"field": "bt", "type": "quantitative", "scale": {"domain": [0.5, 417]}},
                "y": {"field": "pt", "type": "quantitative", "scale": {"domain": [4556.72, 4793.69]}},
                "text": {"field": "t"}
              }
            }
          ]
        }
      ]
    },
    {
      "layer": [
        {
          "data": {"name": "zones"},
          "mark": {"type": "rect"},
          "encoding": {
            "x": {"field": "b", "type": "quantitative", "scale": {"domain": [0.5, 417]}},
            "x2": {"field": "b2"},
            "y": {"datum": 52.8, "type": "quantitative", "scale": {"domain": [-52.14, 389.29]}},
            "y2": {"datum": -42.1},
            "fill": {"field": "z", "type": "nominal", "legend": null,
              "scale": {"domain": ["gray", "pink", "blue", "peach"], "range": ["#d7d9e6", "#ecd3e3", "#ced6f8", "#ecdedf"]}}
          }
        },
        {
          "data": {"name": "ticks"},
          "mark": {"type": "rule", "color": "#a9abb8", "strokeWidth": 1, "strokeDash": [3, 3]},
          "encoding": {
            "x": {"field": "b", "type": "quantitative", "scale": {"domain": [0.5, 417]}},
            "y": {"datum": 52.8, "type": "quantitative", "scale": {"domain": [-52.14, 389.29]}},
            "y2": {"datum": -42.1}
          }
        },
        {
          "data": {"name": "ticks"},
          "mark": {"type": "text", "fontSize": 8.5, "color": "#4a4a52", "font": "Liberation Sans", "align": "center", "baseline": "middle"},
          "encoding": {
            "x": {"field": "b", "type": "quantitative", "scale": {"domain": [0.5, 417]}},
            "y": {"datum": -47.1, "type": "quantitative", "scale": {"domain": [-52.14, 389.29]}},
            "text": {"field": "t"}
          }
        },
        {
          "data": {"values": [{"m": 40}, {"m": -40}]},
          "mark": {"type": "rule", "color": "#c99db2", "strokeWidth": 1, "strokeDash": [4, 4]},
          "encoding": {
            "x": {"datum": 0.5, "type": "quantitative", "scale": {"domain": [0.5, 417]}},
            "x2": {"datum": 404.75},
            "y": {"field": "m", "type": "quantitative", "scale": {"domain": [-52.14, 389.29]}}
          }
        },
        {
          "data": {"values": [{"m": 0}]},
          "mark": {"type": "rule", "color": "#9a9aaa", "strokeWidth": 1, "strokeDash": [1, 2]},
          "encoding": {
            "x": {"datum": 0.5, "type": "quantitative", "scale": {"domain": [0.5, 417]}},
            "x2": {"datum": 404.75},
            "y": {"field": "m", "type": "quantitative", "scale": {"domain": [-52.14, 389.29]}}
          }
        },
        {
          "data": {"name": "bars"},
          "mark": {"type": "area",
            "color": {"gradient": "linear", "x1": 0, "y1": 0, "x2": 0, "y2": 1,
              "stops": [
                {"offset": 0, "color": "rgba(76,175,80,0.26)"},
                {"offset": 0.6516, "color": "rgba(76,175,80,0.26)"},
                {"offset": 0.6516, "color": "rgba(242,54,69,0.17)"},
                {"offset": 1, "color": "rgba(242,54,69,0.17)"}
              ]}},
          "encoding": {
            "x": {"field": "b", "type": "quantitative", "scale": {"domain": [0.5, 417]}},
            "y": {"field": "m", "type": "quantitative", "scale": {"domain": [-52.14, 389.29]},
              "axis": {
                "orient": "right", "offset": -32, "values": [40, 20, 0, -20, -40], "format": ".2f",
                "labelFontSize": 8, "labelColor": "#3a3a42", "labelFont": "Liberation Sans",
                "labelPadding": 0, "labelAlign": "left", "labelBaseline": "middle",
                "ticks": false, "tickSize": 0, "domain": false, "grid": false,
                "title": "MFI Killzones [CDK]", "titleX": -1154, "titleY": 478, "titleAngle": 0, "titleAlign": "left",
                "titleBaseline": "middle", "titleFontSize": 7.5, "titleFontWeight": "normal", "titleFont": "Liberation Sans",
                "titleColor": "#333333", "zindex": 2
              }
            },
            "y2": {"datum": 0}
          }
        },
        {
          "data": {"name": "bars"},
          "mark": {"type": "line", "strokeWidth": 1,
            "color": {"gradient": "linear", "x1": 0, "y1": 0, "x2": 0, "y2": 1,
              "stops": [
                {"offset": 0, "color": "#5cb46e"},
                {"offset": 0.6516, "color": "#5cb46e"},
                {"offset": 0.6516, "color": "#f0848c"},
                {"offset": 1, "color": "#f0848c"}
              ]}},
          "encoding": {
            "x": {"field": "b", "type": "quantitative", "scale": {"domain": [0.5, 417]}},
            "y": {"field": "m", "type": "quantitative", "scale": {"domain": [-52.14, 389.29]}}
          }
        },
        {
          "data": {"name": "divs"},
          "mark": {"type": "rule", "color": "#3a5ddf", "strokeWidth": 1.5},
          "encoding": {
            "x": {"field": "b", "type": "quantitative", "scale": {"domain": [0.5, 417]}},
            "x2": {"field": "b2"},
            "y": {"field": "m", "type": "quantitative", "scale": {"domain": [-52.14, 389.29]}},
            "y2": {"field": "m2"}
          }
        },
        {
          "data": {"values": [{"m": 52.86}]},
          "mark": {"type": "rule", "color": "#8e909c", "strokeWidth": 1.5},
          "encoding": {
            "y": {"field": "m", "type": "quantitative", "scale": {"domain": [-52.14, 389.29]}}
          }
        },
        {
          "data": {"values": [{"b": 405.4, "b2": 416.9, "m": 52.2, "m2": 42.1, "bt": 411.1, "mt": 45.8, "t": "46.75"}]},
          "layer": [
            {
              "mark": {"type": "rect", "fill": "#3fa34d"},
              "encoding": {
                "x": {"field": "b", "type": "quantitative", "scale": {"domain": [0.5, 417]}},
                "x2": {"field": "b2"},
                "y": {"field": "m", "type": "quantitative", "scale": {"domain": [-52.14, 389.29]}},
                "y2": {"field": "m2"}
              }
            },
            {
              "mark": {"type": "text", "color": "#ffffff", "fontSize": 7.5, "align": "center", "baseline": "middle"},
              "encoding": {
                "x": {"field": "bt", "type": "quantitative", "scale": {"domain": [0.5, 417]}},
                "y": {"field": "mt", "type": "quantitative", "scale": {"domain": [-52.14, 389.29]}},
                "text": {"field": "t"}
              }
            }
          ]
        }
      ]
    }
  ],
  "resolve": {"scale": {"y": "independent"}}
}
